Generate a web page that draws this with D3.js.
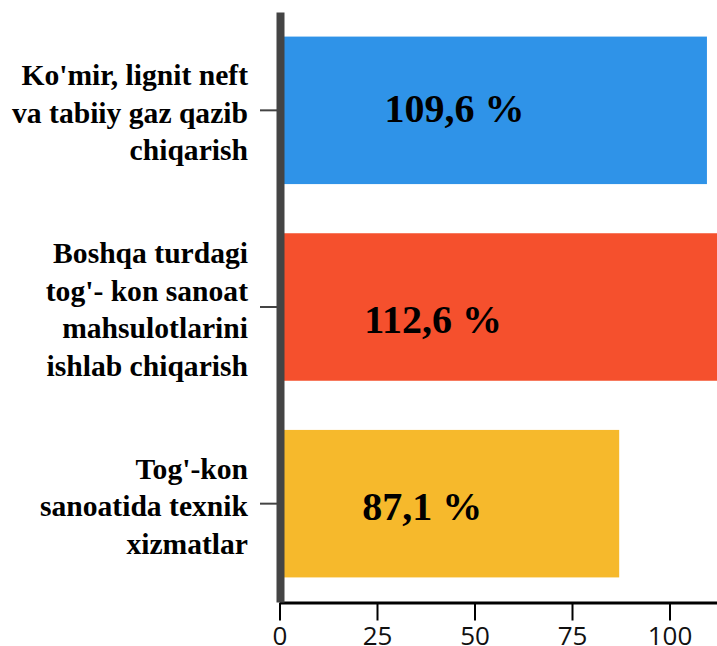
<!DOCTYPE html>
<html>
<head>
<meta charset="utf-8">
<script src="https://cdn.jsdelivr.net/npm/d3@7"></script>
<style>
  body { margin: 0; background: #fff; }
  svg { display: block; }
</style>
</head>
<body>
<div id="chart"></div>
<script>
// categories (line breaks as in the picture)
const categories = [
  "Ko'mir, lignit neft\nva tabiiy gaz qazib\nchiqarish",
  "Boshqa turdagi\ntog'- kon sanoat\nmahsulotlarini\nishlab chiqarish",
  "Tog'-kon\nsanoatida texnik\nxizmatlar"
];
const values = [109.6, 112.6, 87.1];
const colors = ['#2f93e8', '#f5502d', '#f6b92c'];
const xTicks = [0, 25, 50, 75, 100];

// hand-placed value labels (start in data units, baseline offset in px)
const labelStart = [26.9, 21.7, 21.2];
const labelDy = [12, 26, 16];

const width = 717;
const height = 646;

const svg = d3.select('#chart')
  .append('svg')
  .attr('width', width)
  .attr('height', height);

const xScale = d3.scaleLinear().domain([0, 115]).range([279.5, 728]);
const yScale = d3.scaleBand()
  .domain(categories)
  .range([12, 602])
  .paddingInner(0.25)
  .paddingOuter(0.125);

const fmt = d3.formatLocale({ decimal: ',', thousands: ' ', grouping: [3], currency: ['', ''] }).format('.1f');

// bars
svg.append('g')
  .selectAll('rect')
  .data(values)
  .join('rect')
  .attr('x', xScale(0))
  .attr('y', (d, i) => yScale(categories[i]))
  .attr('width', (d) => xScale(d) - xScale(0))
  .attr('height', yScale.bandwidth())
  .attr('fill', (d, i) => colors[i]);

// value labels
svg.append('g')
  .selectAll('text')
  .data(values)
  .join('text')
  .attr('x', (d, i) => xScale(labelStart[i]))
  .attr('y', (d, i) => yScale(categories[i]) + yScale.bandwidth() / 2 + labelDy[i])
  .attr('font-family', "'Liberation Serif', 'Times New Roman', serif")
  .attr('font-weight', 'bold')
  .attr('font-size', 40)
  .attr('fill', '#000')
  .text((d) => fmt(d) + ' %');

// x axis
const xAxis = svg.append('g')
  .attr('transform', 'translate(0, 602.5)')
  .call(d3.axisBottom(xScale).tickValues(xTicks).tickSize(18).tickSizeOuter(0).tickPadding(6));

xAxis.select('.domain').attr('stroke', '#000').attr('stroke-width', 3);
xAxis.selectAll('.tick line').attr('stroke', '#000').attr('stroke-width', 2);
xAxis.selectAll('.tick text')
  .attr('fill', '#111')
  .attr('font-family', "'Open Sans', sans-serif")
  .attr('font-size', 26);

// y axis
const yAxis = svg.append('g')
  .attr('transform', `translate(${xScale(0) + 0.5}, 0)`)
  .call(d3.axisLeft(yScale).tickSize(20).tickSizeOuter(0).tickPadding(12).tickFormat(''));

yAxis.select('.domain').attr('stroke', '#444').attr('stroke-width', 8);
yAxis.selectAll('.tick line').attr('stroke', '#444').attr('stroke-width', 2);

const lineH = 37.5;
yAxis.selectAll('.tick')
  .append('text')
  .attr('x', -32)
  .attr('text-anchor', 'end')
  .attr('fill', '#000')
  .attr('font-family', "'Liberation Serif', 'Times New Roman', serif")
  .attr('font-weight', 'bold')
  .attr('font-size', 29.6)
  .each(function (d) {
    const lines = d.split('\n');
    const t = d3.select(this);
    lines.forEach((ln, i) => {
      t.append('tspan')
        .attr('x', -32)
        .attr('y', (i - (lines.length - 1) / 2) * lineH + 12.5)
        .text(ln);
    });
  });
</script>
</body>
</html>
